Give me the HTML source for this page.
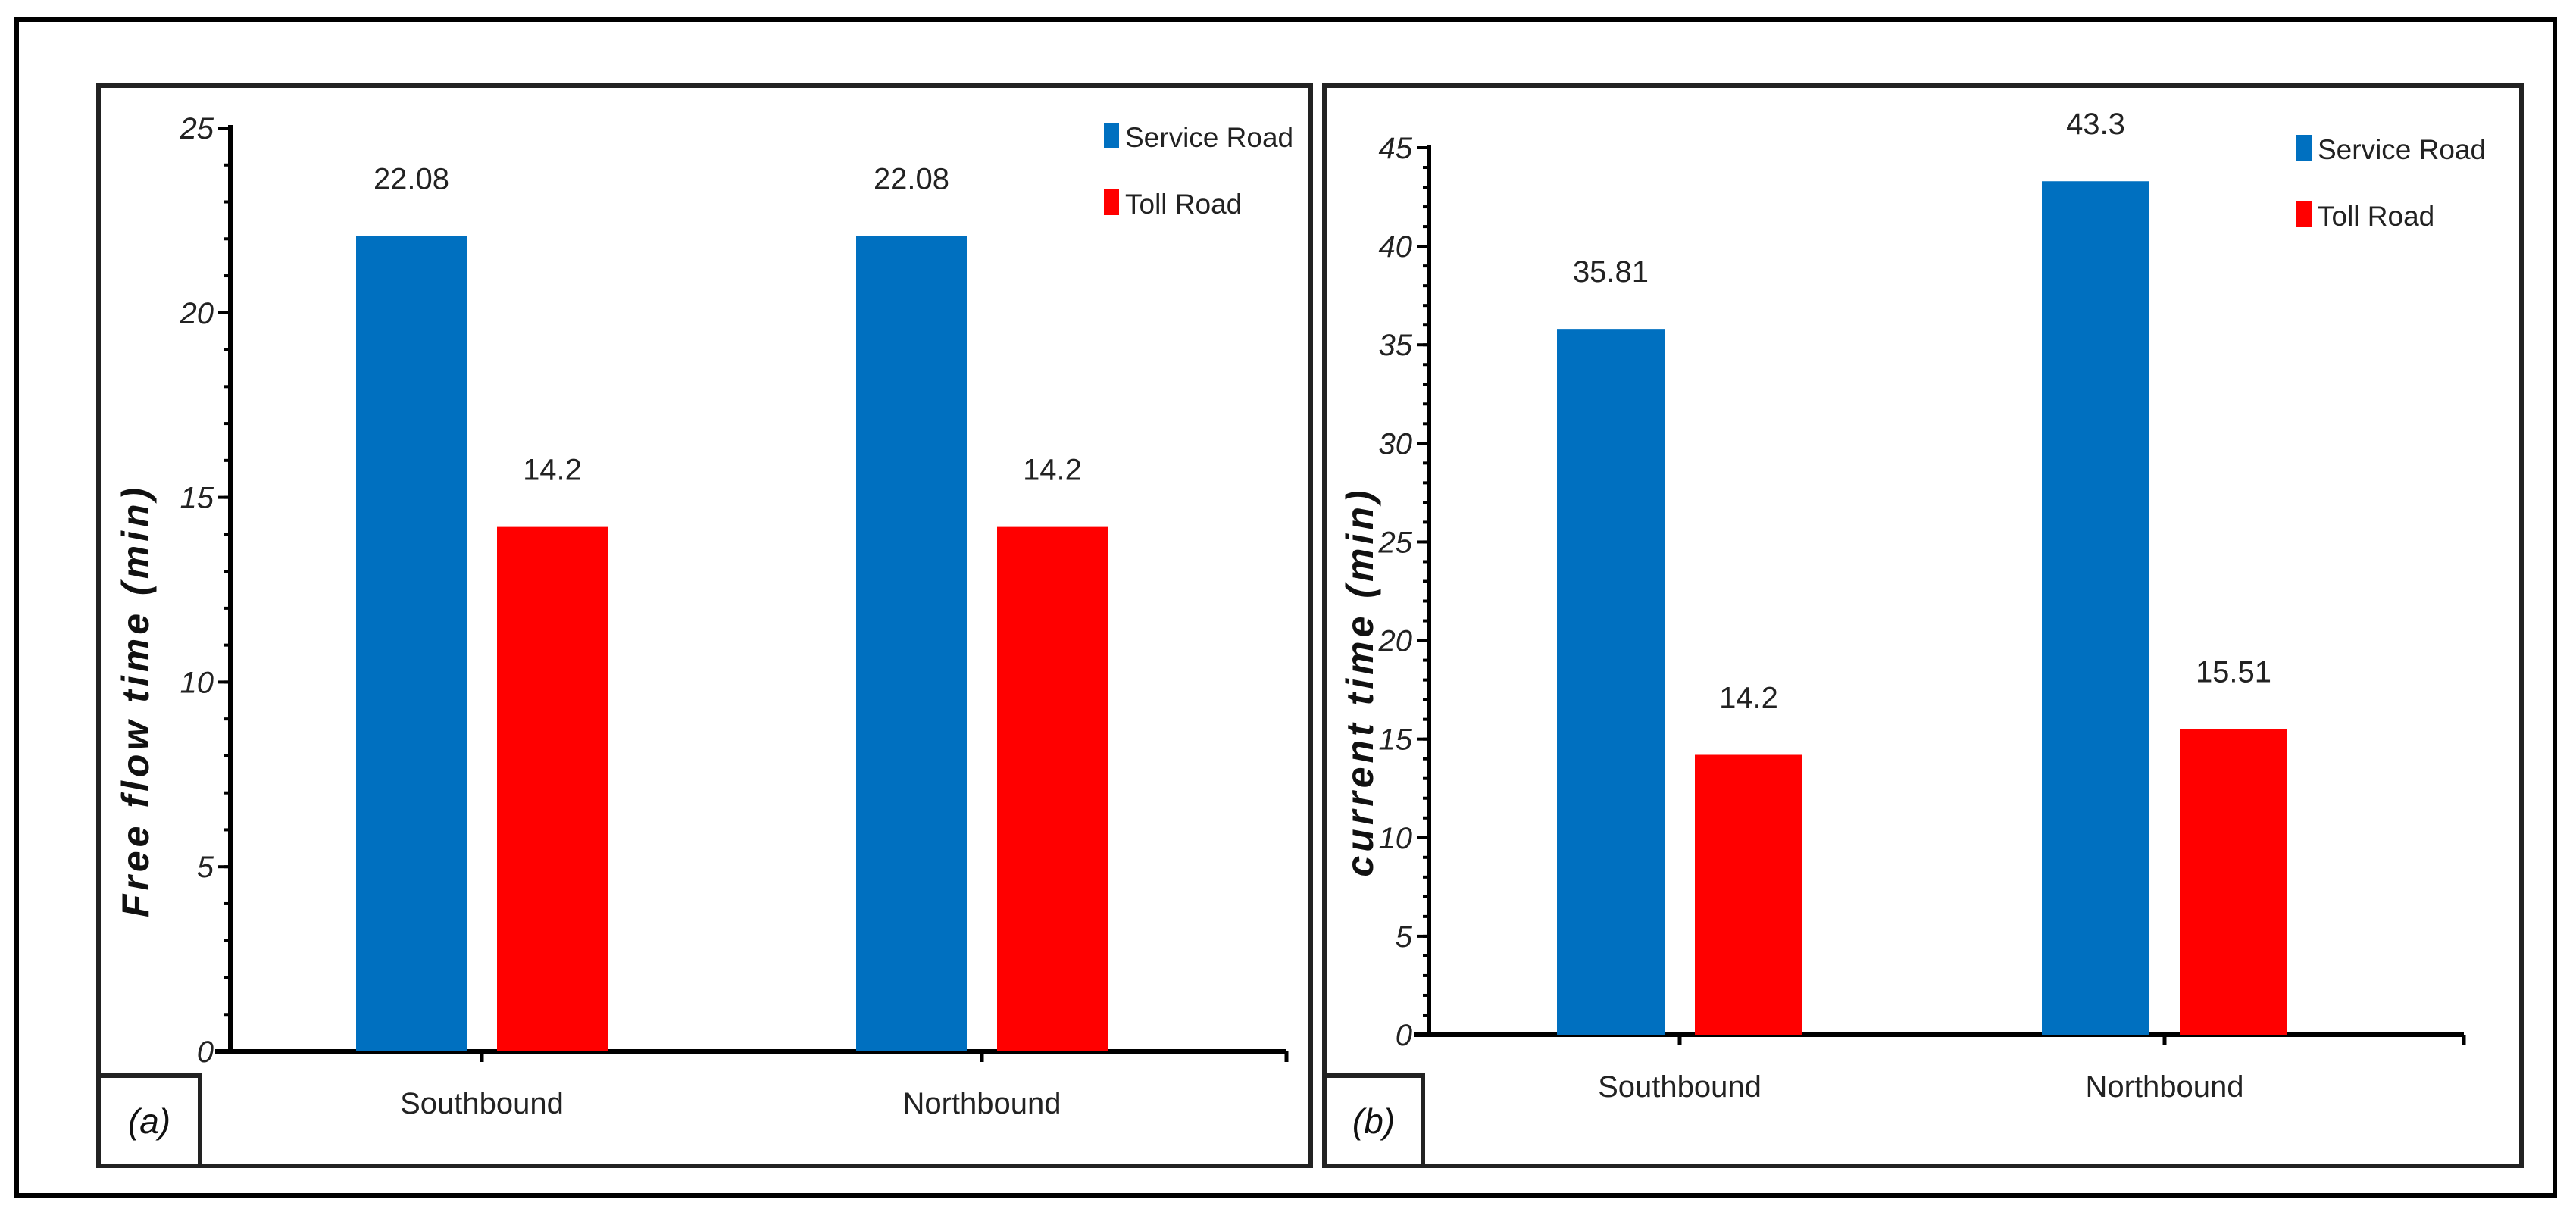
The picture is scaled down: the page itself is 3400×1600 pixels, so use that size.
<!DOCTYPE html>
<html><head><meta charset="utf-8"><style>
body{margin:0;background:#fff}
svg{display:block;font-family:"Liberation Sans",sans-serif}
</style></head><body>
<svg id="fig" width="3400" height="1600" viewBox="0 0 3400 1600">
<rect x="22" y="26" width="3350" height="1552" fill="#fff" stroke="#000" stroke-width="6"/>
</svg>
<script>
const categories = ["Southbound", "Northbound"];
const seriesNames = ["Service Road", "Toll Road"];
const freeFlowService = [22.08, 22.08];
const freeFlowToll = [14.2, 14.2];
const currentService = [35.81, 43.3];
const currentToll = [14.2, 15.51];
const ticksA = [0, 5, 10, 15, 20, 25];
const ticksB = [0, 5, 10, 15, 20, 25, 30, 35, 40, 45];
const colors = ["#0070C0", "#FF0000"];

const NS = "http://www.w3.org/2000/svg";
const svg = document.getElementById("fig");
function el(tag, attrs, parent) {
  const e = document.createElementNS(NS, tag);
  for (const k in attrs) e.setAttribute(k, attrs[k]);
  (parent || svg).appendChild(e);
  return e;
}

function panel(cfg) {
  const g = el("g", {});
  
  
  const f = el("rect", {x: cfg.fx, y: 113, width: cfg.fw, height: 1426, fill: "#fff", stroke: "#222", "stroke-width": 6}, g);
  
  
  const y = v => cfg.y0 - v / cfg.max * (cfg.y0 - cfg.yTop);
  for (let v = 0; v <= cfg.max; v += 1) {
    const t = el("line", {x1: cfg.ax - 8, x2: cfg.ax, y1: y(v), y2: y(v), stroke: "#000", "stroke-width": 4}, g);
    
    
  }
  cfg.ticks.forEach(v => {
    const t = el("line", {x1: cfg.ax - 16, x2: cfg.ax, y1: y(v), y2: y(v), stroke: "#000", "stroke-width": 4}, g);
    
    
    const l = el("text", {x: cfg.ax - 22, y: y(v) + 14, "text-anchor": "end", "font-size": 40, "font-style": "italic", fill: "#222"}, g);
    l.textContent = v;
    
    
  });
  const ya = el("line", {x1: cfg.ax, x2: cfg.ax, y1: cfg.yTop - 4, y2: cfg.y0, stroke: "#000", "stroke-width": 6}, g);
  
  
  const xa = el("line", {x1: cfg.ax - 20, x2: cfg.xEnd, y1: cfg.y0, y2: cfg.y0, stroke: "#000", "stroke-width": 6}, g);
  
  
  const xe = el("line", {x1: cfg.xEnd, x2: cfg.xEnd, y1: cfg.y0, y2: cfg.y0 + 14, stroke: "#000", "stroke-width": 5}, g);
  
  
  const catW = cfg.catW;
  const barW = cfg.barW, gap = cfg.gap;
  categories.forEach((c, i) => {
    const cx = cfg.ax + cfg.catOff + catW * (i + 0.5);
    const xt = el("line", {x1: cx, x2: cx, y1: cfg.y0, y2: cfg.y0 + 14, stroke: "#000", "stroke-width": 5}, g);
    
    
    const cl = el("text", {x: cx, y: cfg.y0 + 82, "text-anchor": "middle", "font-size": 40, fill: "#222"}, g);
    cl.textContent = c;
    
    
    [cfg.s1, cfg.s2].forEach((arr, k) => {
      const bx = k === 0 ? cx - gap / 2 - barW : cx + gap / 2;
      const v = arr[i];
      const b = el("rect", {x: bx, y: y(v), width: barW, height: cfg.y0 - y(v), fill: colors[k]}, g);
      
      
      const vl = el("text", {x: bx + barW / 2, y: y(v) - 62, "text-anchor": "middle", "font-size": 40, fill: "#222"}, g);
      vl.textContent = v;
      
      
    });
  });
  const yt = el("text", {transform: `translate(${cfg.titleX},${cfg.titleY}) rotate(-90)`, "text-anchor": "middle", "font-size": 50, "letter-spacing": 5, "font-weight": "bold", "font-style": "italic", fill: "#111"}, g);
  yt.textContent = cfg.title;
  
  
  seriesNames.forEach((s, k) => {
    const ly = cfg.legY + k * 88;
    const sw = el("rect", {x: cfg.legX, y: ly - 18, width: 20, height: 34, fill: colors[k]}, g);
    
    
    const lt = el("text", {x: cfg.legX + 28, y: ly + 14, "font-size": 37, fill: "#222"}, g);
    lt.textContent = s;
    
    
  });
  const lb = el("rect", {x: cfg.fx, y: 1420, width: cfg.lbW, height: 119, fill: "#fff", stroke: "#222", "stroke-width": 6}, g);
  
  
  const lbt = el("text", {x: cfg.fx + cfg.lbW / 2, y: 1496, "text-anchor": "middle", "font-size": 46, "font-style": "italic", fill: "#111"}, g);
  lbt.textContent = cfg.label;
  
  
}

panel({name: "panel-a-free-flow", fx: 130, fw: 1600, ax: 304, y0: 1388, yTop: 169, xEnd: 1698, catW: 660, catOff: 2, max: 25, ticks: ticksA,
  s1: freeFlowService, s2: freeFlowToll, barW: 146, gap: 40, title: "Free flow time (min)", titleX: 196, titleY: 925,
  legX: 1457, legY: 180, lbW: 134, label: "(a)"});
panel({name: "panel-b-current", fx: 1748, fw: 1580, ax: 1886, y0: 1366, yTop: 195, xEnd: 3252, catW: 640, catOff: 11, max: 45, ticks: ticksB,
  s1: currentService, s2: currentToll, barW: 142, gap: 40, title: "current time (min)", titleX: 1812, titleY: 900,
  legX: 3031, legY: 196, lbW: 130, label: "(b)"});
</script>
</body></html>
